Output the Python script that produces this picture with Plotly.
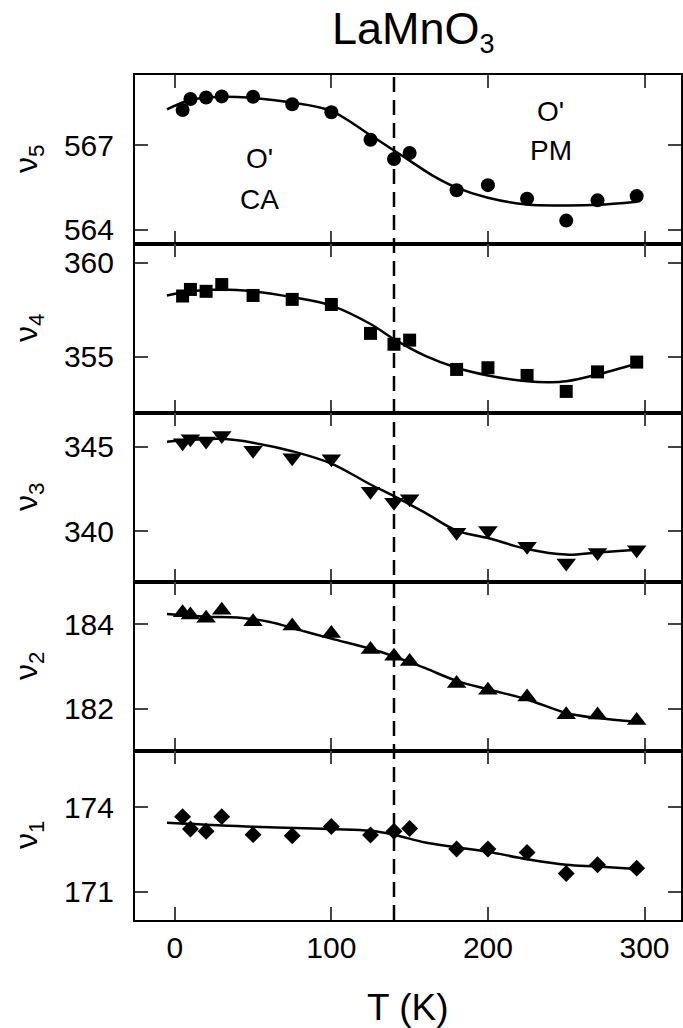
import plotly.graph_objects as go
from plotly.subplots import make_subplots

# ---------------- data ----------------
T = [5, 10, 20, 30, 50, 75, 100, 125, 140, 150, 180, 200, 225, 250, 270, 295]

nu5 = [568.26, 568.65, 568.70, 568.74, 568.73, 568.46, 568.18, 567.20, 566.52, 566.73,
       565.41, 565.59, 565.11, 564.33, 565.05, 565.20]
nu4 = [358.23, 358.58, 358.48, 358.84, 358.26, 358.05, 357.78, 356.24, 355.66, 355.88,
       354.32, 354.41, 354.00, 353.15, 354.19, 354.71]
nu3 = [345.24, 345.47, 345.34, 345.67, 344.80, 344.35, 344.29, 342.37, 341.72, 341.92,
       339.94, 340.04, 339.11, 338.12, 338.75, 338.91]
nu2 = [184.27, 184.22, 184.14, 184.33, 184.06, 183.96, 183.78, 183.40, 183.24, 183.12,
       182.60, 182.44, 182.28, 181.86, 181.85, 181.72]
nu1 = [173.67, 173.23, 173.15, 173.67, 173.03, 172.99, 173.32, 173.02, 173.15, 173.25,
       172.52, 172.52, 172.40, 171.65, 171.96, 171.84]

# fitted curves
fitT5 = [-5, 10, 20, 40, 75, 100, 125, 140, 150, 165, 180, 200, 225, 250, 270, 295]
fit5 = [568.28, 568.62, 568.70, 568.72, 568.52, 568.22, 567.36, 566.82, 566.46, 565.92,
        565.50, 565.14, 564.90, 564.87, 564.89, 565.00]
fitT4 = [-5, 10, 30, 50, 75, 100, 125, 140, 160, 180, 200, 225, 240, 250, 270, 295]
fit4 = [358.26, 358.48, 358.58, 358.48, 358.17, 357.72, 356.74, 355.93, 355.04, 354.41,
        354.00, 353.69, 353.64, 353.69, 354.05, 354.64]
fitT3 = [-5, 10, 30, 50, 75, 100, 125, 140, 160, 180, 200, 225, 250, 270, 295]
fit3 = [345.30, 345.40, 345.47, 345.24, 344.74, 344.01, 342.77, 342.08, 341.09, 340.04,
        339.60, 338.95, 338.62, 338.75, 338.91]
fitT2 = [-5, 20, 40, 60, 80, 100, 125, 140, 160, 180, 200, 225, 250, 270, 295]
fit2 = [184.24, 184.18, 184.16, 184.06, 183.86, 183.66, 183.42, 183.24, 182.96, 182.66,
        182.46, 182.22, 181.90, 181.78, 181.69]
fitT1 = [-5, 50, 100, 125, 140, 160, 180, 200, 225, 250, 270, 295]
fit1 = [173.45, 173.31, 173.23, 173.17, 173.03, 172.75, 172.58, 172.42, 172.16, 171.96,
        171.90, 171.81]

panels = [
    ("5", nu5, fitT5, fit5, "circle", 14, [563.5, 569.5], [564, 567]),
    ("4", nu4, fitT4, fit4, "square", 13, [352, 361], [355, 360]),
    ("3", nu3, fitT3, fit3, "triangle-down", 17, [337, 347], [340, 345]),
    ("2", nu2, fitT2, fit2, "triangle-up", 17, [181, 185], [182, 184]),
    ("1", nu1, fitT1, fit1, "diamond", 13, [170, 176], [171, 174]),
]

x_ticks = [0, 100, 200, 300]
T_transition = 140

FONT = "Liberation Sans, Arial, sans-serif"

fig = make_subplots(rows=5, cols=1, shared_xaxes=True, vertical_spacing=0)

for i, (lab, vals, fT, fv, sym, msz, yr, yt) in enumerate(panels):
    r = i + 1
    fig.add_trace(go.Scatter(x=fT, y=fv, mode="lines",
                             line=dict(color="black", width=2.5, shape="spline", smoothing=1.0),
                             showlegend=False, hoverinfo="skip"), row=r, col=1)
    fig.add_trace(go.Scatter(x=T, y=vals, mode="markers",
                             marker=dict(symbol=sym, size=msz, color="black", line=dict(width=0)),
                             showlegend=False), row=r, col=1)
    fig.update_yaxes(range=yr, tickvals=yt, ticks="inside", ticklen=13, tickwidth=2,
                     showline=True, linewidth=2, linecolor="black", mirror="ticks",
                     showgrid=False, zeroline=False, ticklabelstandoff=13,
                     tickfont=dict(family=FONT, size=30, color="black"), row=r, col=1)
    fig.update_xaxes(range=[-25.4, 323.3], tickvals=x_ticks, ticks="inside", ticklen=13, tickwidth=2,
                     showline=True, linewidth=2, linecolor="black", mirror="ticks",
                     showgrid=False, zeroline=False,
                     tickfont=dict(family=FONT, size=30, color="black"), row=r, col=1)
    yref = "y domain" if r == 1 else f"y{r} domain"
    fig.add_annotation(text=f"ν<sub>{lab}</sub>", xref="paper", yref=yref, x=-0.195, y=0.5,
                       textangle=-90, showarrow=False, xanchor="center", yanchor="middle",
                       font=dict(family=FONT, size=32, color="black"))

fig.update_xaxes(showticklabels=True, ticklabelstandoff=0, row=5, col=1)

# dashed transition line across all panels
fig.add_shape(type="line", xref="x5", yref="paper", x0=T_transition, x1=T_transition, y0=0, y1=1,
              line=dict(color="black", width=2.5, dash="15px,8px"))

# phase labels in top panel
for txt, xx, yy in [("O'", 54, 566.52), ("CA", 54, 565.08), ("O'", 240, 568.21), ("PM", 240, 566.82)]:
    fig.add_annotation(text=txt, x=xx, y=yy, xref="x", yref="y", showarrow=False,
                       font=dict(family=FONT, size=28, color="black"))

fig.add_annotation(text="LaMnO<sub><span style='font-size:27px'>3</span></sub>",
                   xref="paper", yref="paper", x=0.51, y=1.052,
                   showarrow=False, yanchor="middle", font=dict(family=FONT, size=45, color="black"))
fig.add_annotation(text="T (K)", xref="paper", yref="paper", x=0.5, y=-0.1030,
                   showarrow=False, yanchor="middle", font=dict(family=FONT, size=37, color="black"))

fig.update_layout(width=683, height=1028, margin=dict(l=135, r=0, t=75, b=108),
                  plot_bgcolor="white", paper_bgcolor="white", showlegend=False)

fig.write_html("out.html")
